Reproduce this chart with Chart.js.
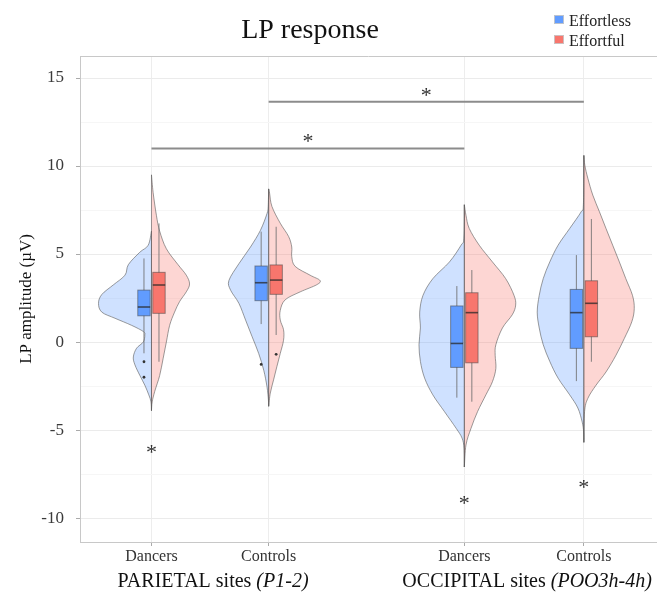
<!DOCTYPE html>
<html>
<head>
<meta charset="utf-8">
<title>LP response</title>
<script src="https://cdn.jsdelivr.net/npm/chart.js@4.4.1/dist/chart.umd.min.js"></script>
<style>
  html, body { margin: 0; padding: 0; background: #fff; overflow: hidden; }
  canvas { display: block; }
</style>
</head>
<body>
<canvas id="chart" width="657" height="594"></canvas>
<script>
    // ---- data ----
    const categories = ['Dancers', 'Controls', 'Dancers', 'Controls'];
    const regionNames = ['PARIETAL sites ', 'OCCIPITAL sites '];
    const regionSites = ['(P1-2)', '(POO3h-4h)'];
    const seriesNames = ['Effortless', 'Effortful'];
    const yTickValues = [-10, -7.5, -5, -2.5, 0, 2.5, 5, 7.5, 10, 12.5, 15];

    // violin outlines: [value (µV), half width (x units)]
    const parDancersEffortless = [[6.3,0],[5.5,0.028],[5.1,0.1],[4.4,0.197],[3.8,0.226],[3.25,0.325],[2.7,0.424],[2.2,0.452],[1.7,0.424],[1.35,0.311],[0.95,0.17],[0.6,0.07],[0.4,0.057],[0.0,0.07],[-0.35,0.127],[-0.85,0.155],[-1.3,0.141],[-1.9,0.099],[-2.45,0.057],[-3.0,0.023],[-3.4,0.004],[-3.9,0]];
    const parDancersEffortful = [[9.5,0],[8.5,0.014],[7.2,0.042],[6.3,0.07],[5.3,0.127],[4.4,0.226],[3.8,0.297],[3.3,0.325],[2.85,0.297],[2.3,0.24],[1.7,0.197],[0.95,0.155],[0.0,0.127],[-0.95,0.099],[-1.9,0.07],[-2.8,0.028],[-3.4,0.006],[-3.9,0]];
    const parControlsEffortless = [[8.7,0],[7.7,0.004],[7.3,0.014],[6.35,0.07],[5.4,0.155],[4.45,0.254],[3.5,0.339],[2.95,0.325],[2.2,0.254],[1.25,0.197],[0.3,0.141],[-0.65,0.085],[-1.6,0.042],[-2.55,0.014],[-3.3,0.002],[-3.65,0]];
    const parControlsEffortful = [[8.7,0],[8.45,0.008],[7.7,0.028],[6.75,0.099],[6.0,0.17],[5.4,0.197],[4.85,0.197],[4.3,0.226],[3.8,0.353],[3.5,0.438],[3.25,0.409],[2.85,0.269],[2.4,0.141],[1.8,0.099],[1.25,0.099],[0.7,0.127],[0.1,0.127],[-0.65,0.099],[-1.4,0.07],[-2.15,0.042],[-2.9,0.014],[-3.65,0]];
    const occDancersEffortless = [[7.8,0],[5.9,0.004],[5.5,0.028],[4.55,0.127],[3.6,0.269],[2.65,0.353],[1.7,0.381],[0.8,0.375],[-0.15,0.387],[-1.1,0.375],[-2.05,0.339],[-3.0,0.269],[-3.95,0.17],[-4.9,0.07],[-5.45,0.02],[-6.05,0.002],[-7.1,0]];
    const occDancersEffortful = [[7.8,0],[7.2,0.014],[6.45,0.042],[5.5,0.127],[4.55,0.24],[3.6,0.353],[2.65,0.424],[2.1,0.438],[1.55,0.409],[0.8,0.325],[-0.15,0.269],[-0.75,0.263],[-1.5,0.269],[-2.25,0.24],[-3.0,0.184],[-3.95,0.113],[-4.9,0.057],[-5.85,0.014],[-7.1,0]];
    const occControlsEffortless = [[10.6,0],[7.8,0.004],[7.4,0.023],[6.45,0.121],[5.5,0.22],[4.55,0.291],[3.6,0.347],[2.65,0.381],[1.7,0.398],[0.8,0.381],[-0.15,0.347],[-1.1,0.291],[-2.05,0.22],[-3.0,0.121],[-3.75,0.051],[-4.55,0.014],[-5.1,0.002],[-5.7,0]];
    const occControlsEffortful = [[10.6,0],[10.05,0.008],[9.3,0.034],[8.35,0.076],[7.4,0.133],[6.45,0.189],[5.5,0.246],[4.55,0.303],[3.6,0.358],[2.65,0.415],[1.9,0.43],[1.15,0.409],[0.2,0.345],[-0.75,0.274],[-1.7,0.189],[-2.45,0.104],[-3.2,0.034],[-3.95,0.006],[-5.7,0]];

    const effortlessViolins = [parDancersEffortless, parControlsEffortless, occDancersEffortless, occControlsEffortless];
    const effortfulViolins = [parDancersEffortful, parControlsEffortful, occDancersEffortful, occControlsEffortful];

    // box plots: [lower whisker, Q1, median, Q3, upper whisker]
    const effortlessBoxes = [[-0.64,1.49,1.99,2.95,4.75],[1.02,2.35,3.37,4.32,6.27],[-3.16,-1.44,-0.08,2.05,3.18],[-2.22,-0.36,1.67,2.99,4.94]];
    const effortfulBoxes = [[-1.12,1.63,3.24,3.96,6.74],[0.40,2.71,3.52,4.38,6.55],[-3.39,-1.18,1.67,2.80,4.09],[-1.12,0.30,2.20,3.48,6.99]];

    // outliers: [group index, value]
    const effortlessOutliers = [[0,-1.12],[0,-2.0],[1,-1.27]];
    const effortfulOutliers = [[1,-0.70]];

    // significance brackets and stars
    const sigPairs = [[0,2],[1,3]];
    const sigLevels = [11.0, 13.65];
    const starGroups = [0, 2, 3];
    const starValues = [-6.0, -8.9, -8.0];

    // ---- layout ----
    const groupX = [1, 2, 3.67, 4.69];
    const boxOffset = 0.064;
    const boxHalf = 0.053;
    const SERIF = "'Liberation Serif', 'DejaVu Serif', serif";

    const blueFill = 'rgba(97,156,255,0.3)';
    const redFill = 'rgba(248,118,109,0.3)';
    const blueBox = '#619CFF';
    const redBox = '#F8766D';

    function smoothPath(ctx, pts) {
      ctx.moveTo(pts[0].x, pts[0].y);
      for (let i = 0; i < pts.length - 1; i++) {
        const p0 = pts[i - 1] || pts[i], p1 = pts[i], p2 = pts[i + 1], p3 = pts[i + 2] || p2;
        ctx.bezierCurveTo(
          p1.x + (p2.x - p0.x) / 6, p1.y + (p2.y - p0.y) / 6,
          p2.x - (p3.x - p1.x) / 6, p2.y - (p3.y - p1.y) / 6,
          p2.x, p2.y);
      }
    }

    function drawHalf(ctx, x, y, shape, cx, side, fill) {
      const pts = shape.map(([v, w]) => ({ x: x.getPixelForValue(cx + side * w), y: y.getPixelForValue(v) }));
      ctx.beginPath();
      smoothPath(ctx, pts);
      ctx.closePath();
      ctx.fillStyle = fill;
      ctx.fill();
      ctx.strokeStyle = 'rgba(90,90,90,0.6)';
      ctx.lineWidth = 1;
      ctx.stroke();
    }

    function drawBox(ctx, x, y, stats, cx, fill) {
      const [lo, q1, med, q3, hi] = stats;
      const px = x.getPixelForValue(cx);
      const l = x.getPixelForValue(cx - boxHalf), r = x.getPixelForValue(cx + boxHalf);
      ctx.strokeStyle = 'rgba(110,110,110,0.85)';
      ctx.lineWidth = 1;
      ctx.beginPath();
      ctx.moveTo(px, y.getPixelForValue(hi));
      ctx.lineTo(px, y.getPixelForValue(lo));
      ctx.stroke();
      const top = y.getPixelForValue(q3), bot = y.getPixelForValue(q1);
      ctx.fillStyle = fill;
      ctx.fillRect(l, top, r - l, bot - top);
      ctx.strokeStyle = 'rgba(70,70,70,0.55)';
      ctx.strokeRect(l, top, r - l, bot - top);
      ctx.strokeStyle = 'rgba(40,40,40,0.75)';
      ctx.lineWidth = 1.6;
      ctx.beginPath();
      ctx.moveTo(l, y.getPixelForValue(med));
      ctx.lineTo(r, y.getPixelForValue(med));
      ctx.stroke();
    }

    function drawStar(ctx, px, py) {
      ctx.fillStyle = '#333';
      ctx.font = '22px ' + SERIF;
      ctx.textAlign = 'center';
      ctx.textBaseline = 'alphabetic';
      ctx.fillText('*', px, py + 11);
    }

    const violinPlugin = {
      id: 'violins',
      beforeDatasetsDraw(chart) {
        const { ctx, chartArea, scales: { x, y } } = chart;
        ctx.save();
        // panel has no right border: clear any edge line, then draw the top border
        ctx.fillStyle = '#fff';
        ctx.fillRect(chartArea.right - 1, chartArea.top, chart.width - chartArea.right + 1, chartArea.bottom - chartArea.top);
        ctx.strokeStyle = '#c8c8c8';
        ctx.lineWidth = 1;
        ctx.beginPath();
        ctx.moveTo(chartArea.left, chartArea.top + 0.5);
        ctx.lineTo(chart.width, chartArea.top + 0.5);
        ctx.moveTo(chartArea.right - 1, chartArea.bottom + 0.5);
        ctx.lineTo(chart.width, chartArea.bottom + 0.5);
        ctx.stroke();

        groupX.forEach((cx, i) => {
          drawHalf(ctx, x, y, effortlessViolins[i], cx, -1, blueFill);
          drawHalf(ctx, x, y, effortfulViolins[i], cx, 1, redFill);
        });
        groupX.forEach((cx, i) => {
          drawBox(ctx, x, y, effortlessBoxes[i], cx - boxOffset, blueBox);
          drawBox(ctx, x, y, effortfulBoxes[i], cx + boxOffset, redBox);
        });

        // significance brackets
        sigPairs.forEach(([a, b], i) => {
          const py = y.getPixelForValue(sigLevels[i]);
          const x1 = x.getPixelForValue(groupX[a]), x2 = x.getPixelForValue(groupX[b]);
          ctx.strokeStyle = '#8c8c8c';
          ctx.lineWidth = 2;
          ctx.beginPath();
          ctx.moveTo(x1, py);
          ctx.lineTo(x2, py);
          ctx.stroke();
          drawStar(ctx, (x1 + x2) / 2, py - 11);
        });
        starGroups.forEach((g, i) => {
          drawStar(ctx, x.getPixelForValue(groupX[g]), y.getPixelForValue(starValues[i]));
        });
        ctx.restore();
      },
      afterDraw(chart) {
        const { ctx, scales: { x } } = chart;
        ctx.save();
        // title
        ctx.fillStyle = '#111';
        ctx.font = '28px ' + SERIF;
        ctx.textAlign = 'center';
        ctx.textBaseline = 'alphabetic';
        ctx.fillText('LP response', 310, 38);

        // legend
        const legendFills = [blueBox, redBox];
        seriesNames.forEach((name, i) => {
          const ly = 15 + i * 20;
          ctx.fillStyle = legendFills[i];
          ctx.fillRect(554, ly, 10, 9);
          ctx.strokeStyle = 'rgba(200,200,200,0.9)';
          ctx.lineWidth = 1;
          ctx.strokeRect(554.5, ly + 0.5, 9, 8);
          ctx.fillStyle = '#222';
          ctx.font = '16px ' + SERIF;
          ctx.textAlign = 'left';
          ctx.fillText(name, 569, ly + 11);
        });

        // region labels under the axis
        regionNames.forEach((name, i) => {
          const cx = (x.getPixelForValue(groupX[i * 2]) + x.getPixelForValue(groupX[i * 2 + 1])) / 2 + 3;
          ctx.font = '20px ' + SERIF;
          const w1 = ctx.measureText(name).width;
          ctx.font = 'italic 20px ' + SERIF;
          const w2 = ctx.measureText(regionSites[i]).width;
          const start = cx - (w1 + w2) / 2;
          ctx.fillStyle = '#111';
          ctx.textAlign = 'left';
          ctx.font = '20px ' + SERIF;
          ctx.fillText(name, start, 587);
          ctx.font = 'italic 20px ' + SERIF;
          ctx.fillText(regionSites[i], start + w1, 587);
        });
        ctx.restore();
      }
    };

    const outlierData = effortlessOutliers.map(([g, v]) => ({ x: groupX[g] - boxOffset, y: v }));
    const outlierData2 = effortfulOutliers.map(([g, v]) => ({ x: groupX[g] + boxOffset, y: v }));

    new Chart(document.getElementById('chart'), {
      type: 'scatter',
      data: {
        datasets: [
          { label: seriesNames[0] + ' outliers', data: outlierData, pointRadius: 1.4, backgroundColor: '#333', borderWidth: 0 },
          { label: seriesNames[1] + ' outliers', data: outlierData2, pointRadius: 1.4, backgroundColor: '#333', borderWidth: 0 }
        ]
      },
      options: {
        responsive: false,
        animation: false,
        layout: { padding: { top: 56, right: 0, bottom: 0, left: 0 } },
        plugins: {
          legend: { display: false },
          tooltip: { enabled: false }
        },
        scales: {
          x: {
            type: 'linear',
            min: 0.39,
            max: 5.28,
            afterBuildTicks: s => { s.ticks = groupX.map(v => ({ value: v })); },
            afterFit: s => { s.height = 52; },
            ticks: {
              callback: (v, i) => categories[i],
              color: '#333',
              padding: 1,
              maxRotation: 0,
              font: { family: SERIF, size: 16 }
            },
            grid: {
              color: c => (c.index < groupX.length && groupX.includes(c.tick && c.tick.value) ? '#ededed' : 'rgba(0,0,0,0)'),
              tickLength: 4,
              tickColor: '#aaa'
            },
            border: { color: '#c8c8c8' }
          },
          y: {
            min: -11.36,
            max: 16.25,
            afterBuildTicks: s => { s.ticks = yTickValues.map(v => ({ value: v })); },
            afterFit: s => { s.width = 80; },
            ticks: {
              callback: v => (v % 5 === 0 ? String(v) : ''),
              color: '#3a3a3a',
              padding: 12,
              font: { family: SERIF, size: 17 }
            },
            grid: {
              color: c => (c.tick && c.tick.value % 5 === 0 ? '#ebebeb' : '#f6f6f6'),
              tickLength: 4,
              tickColor: c => (c.tick && c.tick.value % 5 === 0 ? '#aaa' : 'rgba(0,0,0,0)')
            },
            border: { color: '#c8c8c8' },
            title: {
              display: true,
              text: 'LP amplitude (\u00b5V)',
              color: '#111',
              padding: { top: 16, bottom: 0 },
              font: { family: SERIF, size: 17 }
            }
          }
        }
      },
      plugins: [violinPlugin]
    });
</script>
</body>
</html>
